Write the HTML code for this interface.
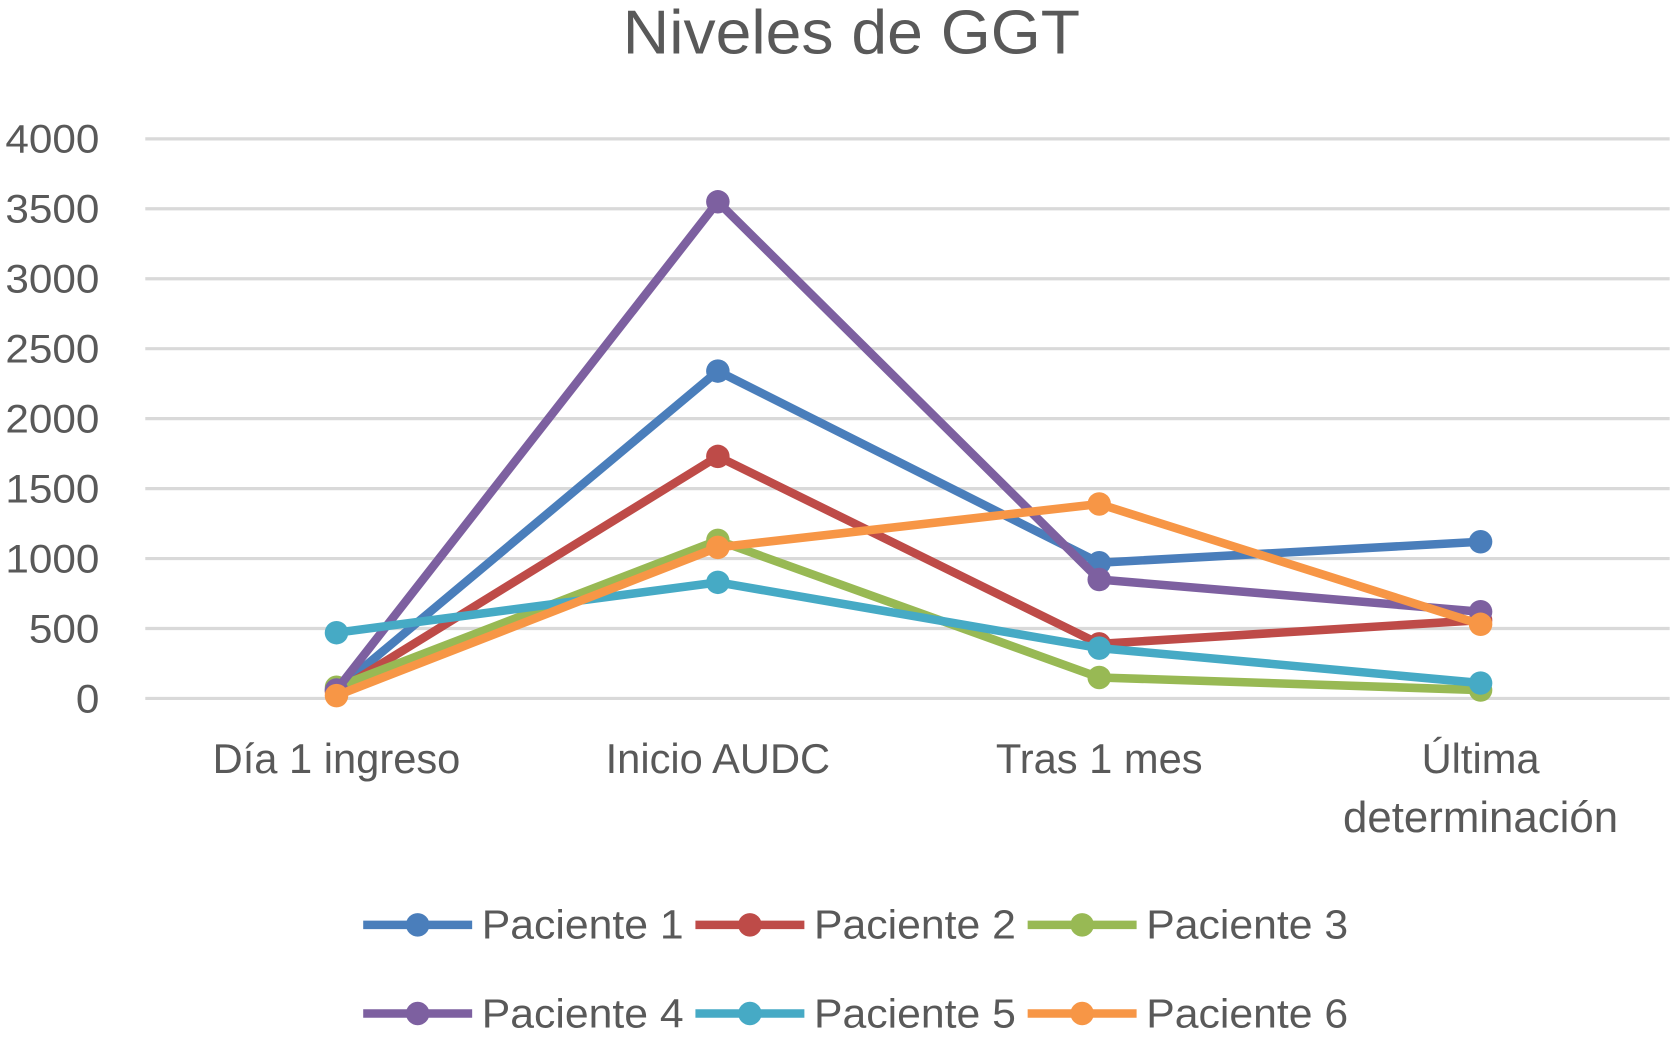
<!DOCTYPE html>
<html><head><meta charset="utf-8"><style>html,body{margin:0;padding:0;background:#fff}svg{display:block}text{font-family:"Liberation Sans",sans-serif;fill:#595959}</style></head>
<body>
<svg id="chart" width="1675" height="1037" viewBox="0 0 1568 971" preserveAspectRatio="none" xmlns="http://www.w3.org/2000/svg">
<text x="797" y="50" font-size="58" text-anchor="middle" textLength="428" lengthAdjust="spacingAndGlyphs">Niveles de GGT</text>
<g id="grid"></g><g id="ylab"></g><g id="xlab"></g><g id="series"></g><g id="legend"></g>
</svg>
<script>
const categories=["Día 1 ingreso","Inicio AUDC","Tras 1 mes","Última|determinación"];
const yTicks=[0,500,1000,1500,2000,2500,3000,3500,4000];
const seriesNames=["Paciente 1","Paciente 2","Paciente 3","Paciente 4","Paciente 5","Paciente 6"];
const p1=[60,2340,970,1120];
const p2=[50,1730,390,560];
const p3=[80,1130,150,60];
const p4=[60,3550,850,620];
const p5=[470,830,360,110];
const p6=[20,1080,1390,530];
const colors=["#4a7ebb","#be4b48","#98b954","#7d60a0","#46aac5","#f79646"];
const NS="http://www.w3.org/2000/svg";
const y=v=>654-v*(524/4000);
const x=i=>315+i*357;
function mk(tag,attrs,parent){const e=document.createElementNS(NS,tag);for(const k in attrs)e.setAttribute(k,attrs[k]);parent.appendChild(e);return e;}
const grid=document.getElementById('grid'),ylab=document.getElementById('ylab'),xlab=document.getElementById('xlab'),ser=document.getElementById('series'),leg=document.getElementById('legend');
yTicks.forEach(t=>{
 const l=mk('line',{x1:136,x2:1563,y1:y(t),y2:y(t),stroke:'#d9d9d9','stroke-width':3},grid);
 
 
 const s=String(t);
 const tx=mk('text',{x:93,y:y(t)+13,'font-size':37,'text-anchor':'end',textLength:s.length*22,lengthAdjust:'spacingAndGlyphs'},ylab);tx.textContent=s;
 
 
});
categories.forEach((c,i)=>{
 const parts=c.split('|');
 parts.forEach((p,j)=>{const tx=mk('text',{x:x(i),y:724+j*55,'font-size':j?41:39,'text-anchor':'middle'},xlab);tx.textContent=p;
 
 });
});
[p1,p2,p3,p4,p5,p6].forEach((d,s)=>{
 const g=mk('g',{},ser);
 
 
 mk('polyline',{points:d.map((v,i)=>x(i)+','+y(v)).join(' '),fill:'none',stroke:colors[s],'stroke-width':8,'stroke-linejoin':'round'},g);
 d.forEach((v,i)=>{const c=mk('circle',{cx:x(i),cy:y(v),r:11,fill:colors[s]},g);
 
 });
});
const lx=[340,651,962],ly=[866,949];
seriesNames.forEach((n,s)=>{
 const g=mk('g',{},leg);
 
 
 const X=lx[s%3],Y=ly[Math.floor(s/3)];
 mk('line',{x1:X,x2:X+102,y1:Y,y2:Y,stroke:colors[s],'stroke-width':8},g);
 mk('circle',{cx:X+51,cy:Y,r:11,fill:colors[s]},g);
 const t=mk('text',{x:X+111,y:Y+13,'font-size':38,textLength:189,lengthAdjust:'spacingAndGlyphs'},g);t.textContent=n;
});
</script>
</body></html>
